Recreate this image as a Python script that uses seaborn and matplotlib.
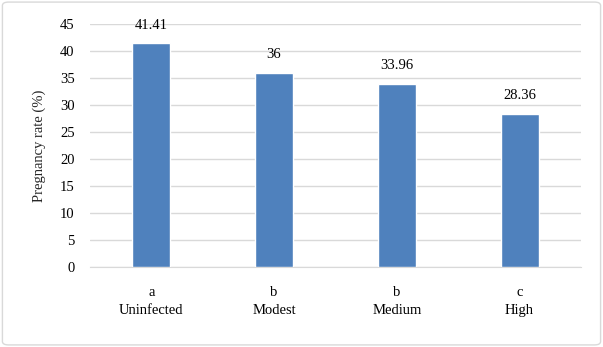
import numpy as np
import pandas as pd
import matplotlib
matplotlib.use('Agg')
import matplotlib.pyplot as plt
import seaborn as sns
from matplotlib.patches import FancyBboxPatch

groups = ['Uninfected', 'Modest', 'Medium', 'High']
letters = ['a', 'b', 'b', 'c']
rates = [41.41, 36, 33.96, 28.36]
rate_labels = ['41.41', '36', '33.96', '28.36']

df = pd.DataFrame({'group': groups, 'rate': rates})

sns.set_style('white')
plt.rcParams['font.family'] = ['Liberation Serif', 'DejaVu Serif']
plt.rc('font', size=10.5)

fig = plt.figure(figsize=(6.03, 3.47), dpi=100)
ax = fig.add_axes([0.149, 0.2305, 0.8145, 0.7005])

sns.barplot(data=df, x='group', y='rate', color='#4F81BD', saturation=1,
            width=0.31, ax=ax, zorder=3)

# value labels above bars
for i, (v, lab) in enumerate(zip(rates, rate_labels)):
    ax.text(i, v + 2.1, lab, ha='center', va='bottom', fontsize=10.5, color='#000000')

ax.set_ylim(0, 45)
ax.set_yticks(np.arange(0, 46, 5))
ax.set_xticks(range(len(groups)))
ax.set_xticklabels([f'{l}\n{g}' for l, g in zip(letters, groups)], linespacing=1.45)
ax.tick_params(axis='both', length=0, labelsize=10.5, colors='#000000')
ax.tick_params(axis='x', pad=14)
ax.tick_params(axis='y', pad=11)
ax.yaxis.grid(True, color='#D9D9D9', lw=1, zorder=0)
ax.set_axisbelow(True)
for s in ['top', 'right', 'left']:
    ax.spines[s].set_visible(False)
ax.spines['bottom'].set_color('#D9D9D9')
ax.set_xlabel('')
ax.set_ylabel('Pregnancy rate (%)', fontsize=10.5, labelpad=10)

border = FancyBboxPatch((0.004, 0.006), 0.992, 0.988, boxstyle='round,pad=0,rounding_size=0.01',
                        transform=fig.transFigure, fill=False, edgecolor='#D9D9D9', lw=1)
fig.patches.append(border)

fig.savefig('out.png', dpi=100)
